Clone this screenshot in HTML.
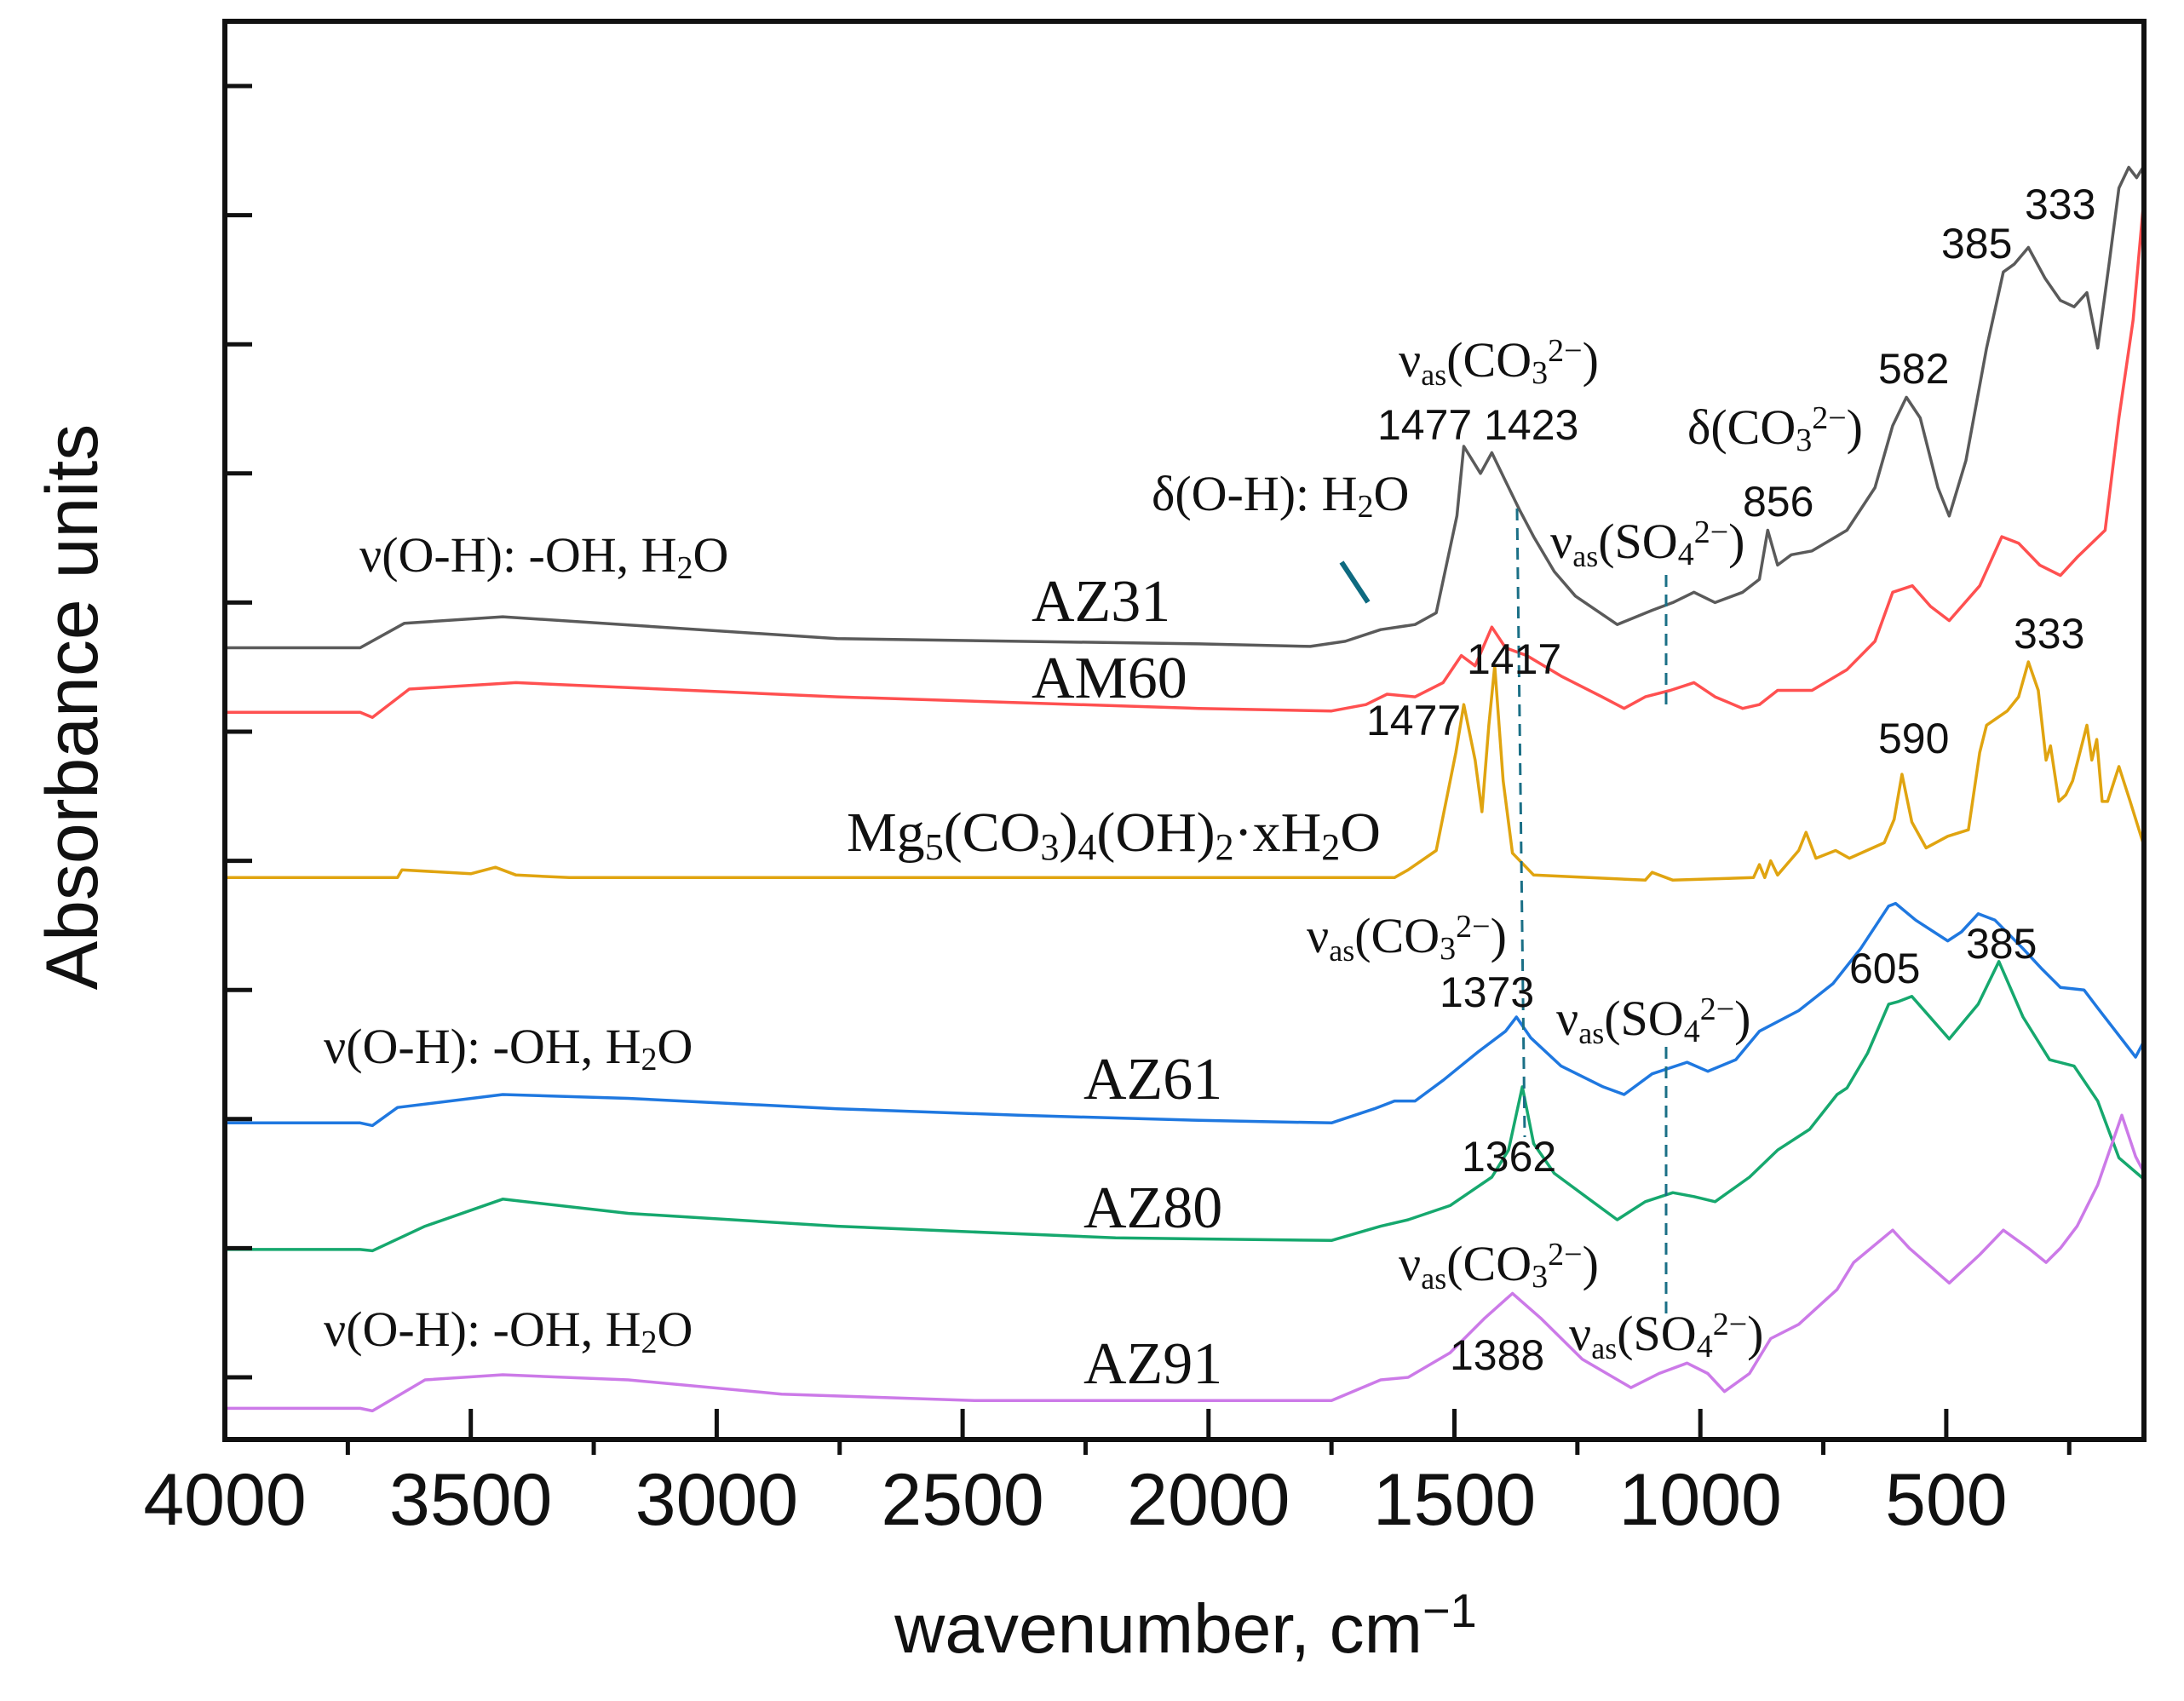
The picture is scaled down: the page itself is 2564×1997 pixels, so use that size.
<!DOCTYPE html>
<html><head><meta charset="utf-8"><style>
html,body{margin:0;padding:0;background:#fff;}
svg{display:block;}
.ser{font-family:"Liberation Serif",serif;fill:#111;}
.san{font-family:"Liberation Sans",sans-serif;fill:#111;}
</style></head><body>
<svg id="chart" width="2564" height="1997" viewBox="0 0 2564 1997" xmlns="http://www.w3.org/2000/svg">
<rect x="0" y="0" width="2564" height="1997" fill="#fff"/>
<g id="curves"></g>
<g id="axes"></g>
<g id="annot">
<line x1="1781" y1="597" x2="1790" y2="1335" stroke="#1a6f86" stroke-width="3" stroke-dasharray="14,9"/>
<line x1="1956" y1="675" x2="1956" y2="835" stroke="#1a6f86" stroke-width="3" stroke-dasharray="14,9"/>
<line x1="1956" y1="1229" x2="1956" y2="1545" stroke="#1a6f86" stroke-width="3" stroke-dasharray="14,9"/>
<line x1="1575" y1="660" x2="1606" y2="707" stroke="#0e6a80" stroke-width="6"/>

<text class="ser" x="422" y="671" font-size="58">ν(O-H): -OH, H<tspan font-size="38" dy="8">2</tspan><tspan dy="-8">O</tspan></text>
<text class="ser" x="1352" y="599" font-size="58">δ(O-H): H<tspan font-size="38" dy="8">2</tspan><tspan dy="-8">O</tspan></text>
<text class="ser" x="1642" y="442" font-size="58">ν<tspan font-size="36" dy="10">as</tspan><tspan dy="-10">(CO</tspan><tspan font-size="38" dy="8">3</tspan><tspan font-size="38" dy="-26">2−</tspan><tspan dy="18">)</tspan></text>
<text class="san" x="1617" y="516" font-size="50">1477 1423</text>
<text class="ser" x="1981" y="521" font-size="58">δ(CO<tspan font-size="38" dy="8">3</tspan><tspan font-size="38" dy="-26">2−</tspan><tspan dy="18">)</tspan></text>
<text class="ser" x="1820" y="655" font-size="58">ν<tspan font-size="36" dy="10">as</tspan><tspan dy="-10">(SO</tspan><tspan font-size="38" dy="8">4</tspan><tspan font-size="38" dy="-26">2−</tspan><tspan dy="18">)</tspan></text>
<text class="san" x="2046" y="606" font-size="50">856</text>
<text class="san" x="2205" y="450" font-size="50">582</text>
<text class="san" x="2279" y="303" font-size="50">385</text>
<text class="san" x="2377" y="257" font-size="50">333</text>
<text class="ser" x="1211" y="729" font-size="70">AZ31</text>
<text class="ser" x="1211" y="819" font-size="70">AM60</text>
<text class="san" x="1722" y="791" font-size="50">1417</text>
<text class="san" x="1604" y="863" font-size="50">1477</text>
<text class="san" x="2364" y="761" font-size="50">333</text>
<text class="san" x="2205" y="884" font-size="50">590</text>
<text class="ser" x="994" y="999" font-size="66">Mg<tspan font-size="44" dy="10">5</tspan><tspan dy="-10">(CO</tspan><tspan font-size="44" dy="10">3</tspan><tspan dy="-10">)</tspan><tspan font-size="44" dy="10">4</tspan><tspan dy="-10">(OH)</tspan><tspan font-size="44" dy="10">2</tspan><tspan dy="-10">·xH</tspan><tspan font-size="44" dy="10">2</tspan><tspan dy="-10">O</tspan></text>
<text class="ser" x="1534" y="1118" font-size="58">ν<tspan font-size="36" dy="10">as</tspan><tspan dy="-10">(CO</tspan><tspan font-size="38" dy="8">3</tspan><tspan font-size="38" dy="-26">2−</tspan><tspan dy="18">)</tspan></text>
<text class="san" x="1690" y="1182" font-size="50">1373</text>
<text class="san" x="2171" y="1154" font-size="50">605</text>
<text class="san" x="2308" y="1125" font-size="50">385</text>
<text class="ser" x="1827" y="1215" font-size="58">ν<tspan font-size="36" dy="10">as</tspan><tspan dy="-10">(SO</tspan><tspan font-size="38" dy="8">4</tspan><tspan font-size="38" dy="-26">2−</tspan><tspan dy="18">)</tspan></text>
<text class="ser" x="380" y="1248" font-size="58">ν(O-H): -OH, H<tspan font-size="38" dy="8">2</tspan><tspan dy="-8">O</tspan></text>
<text class="ser" x="1272" y="1290" font-size="70">AZ61</text>
<text class="ser" x="1272" y="1441" font-size="70">AZ80</text>
<text class="san" x="1716" y="1375" font-size="50">1362</text>
<text class="ser" x="1642" y="1503" font-size="58">ν<tspan font-size="36" dy="10">as</tspan><tspan dy="-10">(CO</tspan><tspan font-size="38" dy="8">3</tspan><tspan font-size="38" dy="-26">2−</tspan><tspan dy="18">)</tspan></text>
<text class="ser" x="380" y="1580" font-size="58">ν(O-H): -OH, H<tspan font-size="38" dy="8">2</tspan><tspan dy="-8">O</tspan></text>
<text class="san" x="1702" y="1608" font-size="50">1388</text>
<text class="ser" x="1842" y="1585" font-size="58">ν<tspan font-size="36" dy="10">as</tspan><tspan dy="-10">(SO</tspan><tspan font-size="38" dy="8">4</tspan><tspan font-size="38" dy="-26">2−</tspan><tspan dy="18">)</tspan></text>
<text class="ser" x="1272" y="1624" font-size="70">AZ91</text>
</g>
<text class="san" x="0" y="0" font-size="86" text-anchor="middle" transform="translate(114,830) rotate(-90)">Absorbance units</text>
<text class="san" x="1392" y="1940" font-size="82" text-anchor="middle">wavenumber, cm<tspan font-size="56" dy="-30">−1</tspan></text>
</svg>
<script>
// ---- data (wavenumber in cm-1, absorbance in arbitrary offset units) ----
const xTicksMajor = [4000, 3500, 3000, 2500, 2000, 1500, 1000, 500];
const xTicksMinor = [3750, 3250, 2750, 2250, 1750, 1250, 750, 250];
const yTicks = [0,1,2,3,4,5,6,7,8,9,10];

const az31W = [4000,3725,3635,3435,2755,2020,1793,1722,1650,1580,1537,1495,1481,1447,1424,1396,1368,1339,1297,1254,1169,1098,1056,1013,970,914,880,863,843,815,773,702,645,609,581,553,517,494,460,418,384,362,333,299,268,240,214,192,169,149,129,113,100];
const az31A = [5.65,5.65,5.84,5.89,5.72,5.68,5.66,5.70,5.79,5.83,5.92,6.67,7.21,7.00,7.16,6.94,6.72,6.51,6.24,6.05,5.83,5.94,6.00,6.08,6.00,6.08,6.18,6.56,6.29,6.37,6.40,6.56,6.89,7.37,7.59,7.43,6.89,6.67,7.10,7.97,8.56,8.62,8.75,8.51,8.34,8.29,8.40,7.97,8.62,9.21,9.37,9.29,9.37];

const am60W = [4000,3725,3700,3625,3408,2755,2020,1750,1680,1637,1580,1523,1486,1458,1424,1396,1353,1283,1200,1155,1112,1061,1013,970,914,880,843,773,702,645,609,569,532,494,432,387,353,310,268,234,177,149,120,100];
const am60A = [5.15,5.15,5.11,5.33,5.38,5.27,5.18,5.16,5.21,5.29,5.27,5.38,5.59,5.51,5.81,5.65,5.59,5.43,5.27,5.18,5.27,5.32,5.38,5.27,5.18,5.21,5.32,5.32,5.48,5.70,6.08,6.13,5.97,5.86,6.13,6.51,6.46,6.29,6.21,6.35,6.56,7.43,8.19,9.05];

const mgW = [4000,3649,3640,3500,3450,3408,3300,1622,1594,1537,1497,1481,1458,1444,1430,1418,1401,1382,1339,1112,1098,1056,892,880,869,857,843,800,785,765,725,697,626,606,590,570,541,497,455,432,418,376,353,333,313,297,288,271,257,243,214,204,194,183,172,149,126,100];
const mgA = [3.87,3.87,3.93,3.90,3.95,3.89,3.87,3.87,3.93,4.08,4.84,5.21,4.78,4.38,5.05,5.51,4.62,4.06,3.89,3.85,3.91,3.85,3.87,3.97,3.87,4.00,3.89,4.08,4.22,4.02,4.08,4.02,4.14,4.32,4.67,4.30,4.10,4.19,4.24,4.84,5.05,5.16,5.27,5.54,5.32,4.78,4.89,4.46,4.51,4.62,5.05,4.78,4.94,4.46,4.46,4.73,4.46,4.14];

const az61W = [4000,3725,3700,3649,3435,3180,2755,2387,2020,1750,1663,1622,1580,1523,1452,1396,1374,1345,1283,1198,1155,1098,1027,985,928,880,800,730,674,617,603,562,497,469,435,401,344,305,268,220,192,115,100];
const az61A = [1.97,1.97,1.95,2.09,2.19,2.16,2.08,2.03,1.99,1.97,2.08,2.14,2.14,2.30,2.52,2.68,2.79,2.63,2.41,2.25,2.19,2.35,2.44,2.37,2.46,2.68,2.84,3.05,3.32,3.65,3.67,3.54,3.38,3.45,3.59,3.54,3.32,3.16,3.02,3.00,2.86,2.48,2.59];

const az80W = [4000,3725,3700,3593,3435,3180,2755,2189,1750,1650,1594,1509,1424,1390,1362,1339,1297,1226,1169,1112,1056,1013,970,900,843,778,722,702,660,617,597,570,494,435,393,344,290,240,192,149,100];
const az80A = [0.99,0.99,0.98,1.17,1.38,1.27,1.17,1.08,1.06,1.17,1.22,1.33,1.55,1.76,2.25,1.81,1.58,1.38,1.22,1.36,1.43,1.40,1.36,1.55,1.76,1.92,2.19,2.24,2.51,2.89,2.91,2.95,2.62,2.89,3.22,2.79,2.46,2.41,2.14,1.70,1.54];

const az91W = [4000,3725,3700,3593,3435,3180,2868,2472,2020,1750,1650,1594,1509,1438,1382,1325,1240,1141,1084,1027,985,951,900,857,800,722,688,609,575,494,432,384,333,297,268,234,192,143,115,100];
const az91A = [-0.24,-0.24,-0.26,-0.02,0.02,-0.02,-0.13,-0.18,-0.18,-0.18,-0.02,0.00,0.19,0.46,0.65,0.46,0.14,-0.08,0.03,0.11,0.03,-0.11,0.03,0.30,0.41,0.68,0.89,1.14,1.00,0.73,0.95,1.14,1.00,0.89,1.00,1.17,1.49,2.03,1.71,1.60];

// ---- scales ----
const X0 = 264, XR = 2517, YT = 25, YB = 1690;
function sx(w){ return X0 + (4000 - w) * 0.5774; }
function sy(a){ return 1617 - 151.6 * a; }

const NS = 'http://www.w3.org/2000/svg';
const curves = document.getElementById('curves');
const axes = document.getElementById('axes');

function drawSeries(ws, as, color, name){
  let d = '';
  for (let i = 0; i < ws.length; i++){
    d += (i ? 'L' : 'M') + sx(ws[i]).toFixed(1) + ',' + sy(as[i]).toFixed(1);
  }
  const p = document.createElementNS(NS, 'path');
  p.setAttribute('d', d);
  p.setAttribute('fill', 'none');
  p.setAttribute('stroke', color);
  p.setAttribute('stroke-width', '3.5');
  p.setAttribute('stroke-linejoin', 'round');
  
  
  curves.appendChild(p);
}
drawSeries(az31W, az31A, '#5a5a5a', 'az31-spectrum');
drawSeries(am60W, am60A, '#ff5050', 'am60-spectrum');
drawSeries(mgW, mgA, '#e0a410', 'mg-carbonate-spectrum');
drawSeries(az61W, az61A, '#1f78e0', 'az61-spectrum');
drawSeries(az80W, az80A, '#16a86e', 'az80-spectrum');
drawSeries(az91W, az91A, '#cc7ae8', 'az91-spectrum');

function line(x1,y1,x2,y2,w,name){
  const l = document.createElementNS(NS,'line');
  l.setAttribute('x1',x1); l.setAttribute('y1',y1);
  l.setAttribute('x2',x2); l.setAttribute('y2',y2);
  l.setAttribute('stroke','#111'); l.setAttribute('stroke-width',w);
  
  
  axes.appendChild(l);
  return l;
}
const frame = document.createElementNS(NS,'rect');
frame.setAttribute('x', X0); frame.setAttribute('y', YT);
frame.setAttribute('width', XR - X0); frame.setAttribute('height', YB - YT);
frame.setAttribute('fill','none'); frame.setAttribute('stroke','#111'); frame.setAttribute('stroke-width','6');


axes.appendChild(frame);

xTicksMajor.forEach(w => {
  const x = sx(w);
  if (w !== 4000) line(x, YB, x, YB - 36, 5, 'x-major-tick');
  const t = document.createElementNS(NS,'text');
  t.setAttribute('x', x); t.setAttribute('y', 1790);
  t.setAttribute('text-anchor','middle');
  t.setAttribute('font-size','86');
  t.setAttribute('class','san');
  t.textContent = w;
  
  
  axes.appendChild(t);
});
xTicksMinor.forEach(w => {
  const x = sx(w);
  line(x, YB, x, YB + 18, 5, 'x-minor-tick');
});
yTicks.forEach(a => {
  const y = sy(a);
  line(X0, y, X0 + 32, y, 5, 'y-tick');
});
</script>
</body></html>
